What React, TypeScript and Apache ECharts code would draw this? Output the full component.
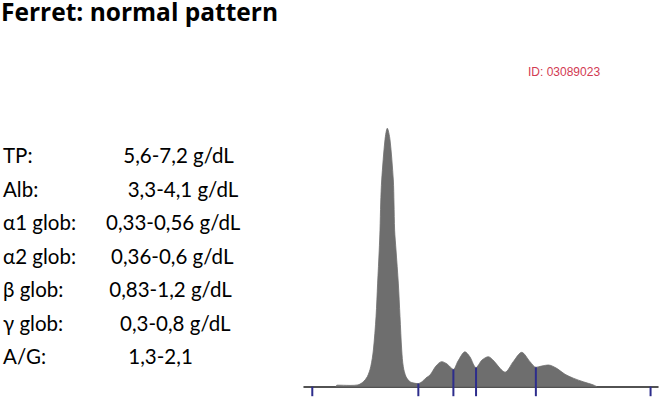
import { useEffect, useRef } from "react";
import * as echarts from "echarts";

// Electrophoretic mobility (0 = application point, 100 = right end of the strip)
const mobility = [
  9.04, 9.3, 13.0, 15.25, 16.75, 17.9, 18.85, 19.6, 20.35, 20.8, 21.25, 21.47, 21.67, 21.95, 22.88,
  23.53, 24.29, 25.23, 25.42, 25.6, 25.99, 26.64, 27.12, 27.6, 28.05, 28.81, 29.94, 31.07, 32.2,
  33.33, 34.46, 35.59, 37.29, 38.9, 40.4, 42.2, 43.5, 45.48, 46.89, 48.59, 50.28, 52.06, 53.67,
  55.37, 56.78, 59.12, 61.5, 63.84, 65.54, 67.15, 69.01, 71.38, 73.73, 76.07, 78.9, 81.72, 82.77,
];
// Relative optical density (albumin peak = 100)
const density = [
  0, 0.6, 0.5, 0.7, 1.9, 3.9, 7.7, 14.2, 27.1, 40.1, 52.9, 60.6, 71.1, 80, 95.6,
  100, 95.6, 80, 71.1, 60.6, 52.9, 40.1, 27.1, 14.2, 7.7, 3.9, 1.9, 1.4, 1.2,
  1.9, 3.4, 4.5, 8, 9.7, 8.8, 6.7, 9.9, 13.5, 11.5, 7.4, 10.3, 11.6, 9.9,
  7.1, 5.6, 9.7, 13.3, 9.7, 7.5, 8, 8.4, 7.1, 4.8, 3.3, 1.9, 0.7, 0,
];
// Fraction boundaries (cut positions) and the curve height at each
const cutPositions = [2.34, 32.3, 42.2, 48.6, 65.5, 97.9];
const cutHeights = [0, 1.2, 6.7, 7.4, 7.5, 0];

const refLabels = ["TP:", "Alb:", "α1 glob:", "α2 glob:", "β glob:", "γ glob:", "A/G:"];
const refRanges = [
  "5,6-7,2 g/dL",
  "3,3-4,1 g/dL",
  "0,33-0,56 g/dL",
  "0,36-0,6 g/dL",
  "0,83-1,2 g/dL",
  "0,3-0,8 g/dL",
  "1,3-2,1",
];
const titleText = "Ferret: normal pattern";
const sampleId = "ID: 03089023";

// layout
const ROW_Y0 = 155;
const ROW_STEP = 33.5;
const rangeX = [123.3, 127.7, 106, 111, 109.3, 120, 128.3];

export default function App() {
  const ref = useRef<HTMLDivElement>(null);
  useEffect(() => {
    if (!ref.current) return;
    const chart = echarts.init(ref.current, null, { renderer: "svg" });
    const textFont = "Lato, 'Open Sans', 'Noto Sans', sans-serif";
    const graphics: any[] = [
      {
        type: "text",
        x: 1,
        y: 11.5,
        style: {
          text: titleText,
          font: "bold 24.5px 'Open Sans', 'Noto Sans', sans-serif",
          fill: "#000",
          verticalAlign: "middle",
        },
      },
      {
        type: "text",
        x: 528,
        y: 72,
        style: {
          text: sampleId,
          font: "12px 'Liberation Sans', Arial, sans-serif",
          fill: "#d23a52",
          verticalAlign: "middle",
        },
      },
    ];
    refLabels.forEach((lab, i) => {
      const y = ROW_Y0 + i * ROW_STEP;
      graphics.push({
        type: "text",
        x: 3,
        y,
        style: { text: lab, font: `20.5px ${textFont}`, fill: "#000", verticalAlign: "middle" },
      });
      graphics.push({
        type: "text",
        x: rangeX[i],
        y,
        style: { text: refRanges[i], font: `20.5px ${textFont}`, fill: "#000", verticalAlign: "middle" },
      });
    });

    chart.setOption({
      animation: false,
      grid: { left: 304, right: 9, top: 128.3, bottom: 13.3, containLabel: false },
      xAxis: {
        type: "value",
        min: 0,
        max: 100,
        axisLine: { show: true, onZero: false, lineStyle: { color: "#1a1a1a", width: 1.5 } },
        axisTick: { show: false },
        axisLabel: { show: false },
        splitLine: { show: false },
      },
      yAxis: {
        type: "value",
        min: 0,
        max: 100,
        show: false,
        splitLine: { show: false },
      },
      graphic: graphics,
      series: [
        {
          type: "line",
          data: mobility.map((x, i) => [x, density[i]]),
          smooth: 0.3,
          showSymbol: false,
          clip: false,
          lineStyle: { color: "#6e6e6e", width: 0.8 },
          areaStyle: { color: "#6e6e6e", opacity: 1 },
          z: 2,
        },
        {
          type: "custom",
          data: cutPositions.map((x, i) => [x, cutHeights[i]]),
          z: 5,
          renderItem: (_params: any, api: any) => {
            const top = api.coord([api.value(0), api.value(1)]);
            const base = api.coord([api.value(0), 0]);
            return {
              type: "line",
              shape: { x1: top[0], y1: top[1], x2: base[0], y2: base[1] + 9.5 },
              style: { stroke: "#2d2d8c", lineWidth: 2 },
            };
          },
        },
      ],
    });
    return () => chart.dispose();
  }, []);
  return (
    <div
      ref={ref}
      style={{ position: "fixed", left: 0, top: 0, width: 667, height: 400, background: "#fff" }}
    />
  );
}
